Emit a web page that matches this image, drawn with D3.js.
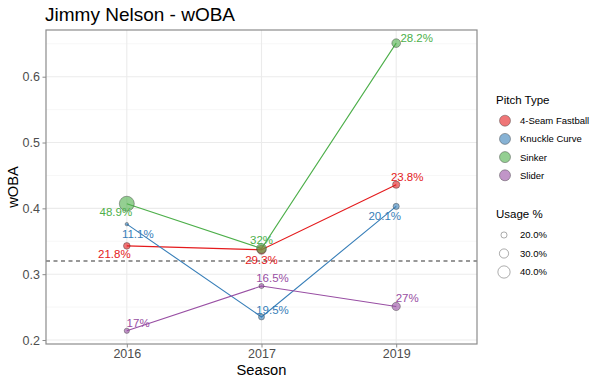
<!DOCTYPE html>
<html>
<head>
<meta charset="utf-8">
<script src="https://cdn.jsdelivr.net/npm/d3@7"></script>
<style>
  body { margin: 0; background: #fff; }
  text { font-family: "Liberation Sans", Arial, sans-serif; }
</style>
</head>
<body>
<svg id="chart"></svg>
<script>
// 数据
const seasons = ['2016', '2017', '2019'];
const pitchTypes = ['4-Seam Fastball', 'Knuckle Curve', 'Sinker', 'Slider'];
const fastballWoba = [0.343, 0.337, 0.436];
const curveWoba = [0.376, 0.235, 0.403];
const sinkerWoba = [0.407, 0.339, 0.651];
const sliderWoba = [0.214, 0.282, 0.251];
const fastballUsage = [21.8, 29.3, 23.8];
const curveUsage = [11.1, 19.5, 20.1];
const sinkerUsage = [48.9, 32, 28.2];
const sliderUsage = [17, 16.5, 27];
const leagueWoba = 0.320;
const yTicks = [0.2, 0.3, 0.4, 0.5, 0.6];
const yMinorTicks = [0.25, 0.35, 0.45, 0.55, 0.65];
const usageBreaks = [20, 30, 40];

// 标签偏移 (文字位置微调)
const labelOffsets = [
  [[-12.5, 11.7], [0, 14], [11, -3.3]],
  [[11, 14], [11, -3.3], [-11.4, 13.3]],
  [[-11, 12.7], [0, -5], [20.5, -1.6]],
  [[11.3, -4], [11, -4.3], [11, -4]]
];

const wobaList = [fastballWoba, curveWoba, sinkerWoba, sliderWoba];
const usageList = [fastballUsage, curveUsage, sinkerUsage, sliderUsage];

const series = pitchTypes.map(function(p, i) {
  return {
    name: p,
    values: seasons.map(function(s, j) {
      return { season: s, woba: wobaList[i][j], usage: usageList[i][j], off: labelOffsets[i][j] };
    })
  };
});

const [width, height] = [600, 385];
const panel = { left: 46, right: 477, top: 30, bottom: 344 };

let svg = d3.select('#chart')
  .attr('width', width)
  .attr('height', height);

let x = d3.scalePoint()
  .domain(seasons)
  .range([panel.left, panel.right])
  .padding(0.6);

let y = d3.scaleLinear()
  .domain([0.2, 0.6])
  .range([340, 76.7]);

let color = d3.scaleOrdinal()
  .domain(pitchTypes)
  .range(['#E41A1C', '#377EB8', '#4DAF4A', '#984EA3']);

let allUsage = [].concat(fastballUsage, curveUsage, sinkerUsage, sliderUsage);
let r = d3.scaleLinear()
  .domain(d3.extent(allUsage))
  .range([1.7, 7.5]);

// 网格
let grid = svg.append('g');
grid.selectAll('.minor')
  .data(yMinorTicks.filter(function(d) { return y(d) > panel.top; }))
  .enter().append('line')
  .attr('x1', panel.left).attr('x2', panel.right)
  .attr('y1', d => y(d)).attr('y2', d => y(d))
  .attr('stroke', '#F2F2F2').attr('stroke-width', 0.6);
grid.selectAll('.major')
  .data(yTicks)
  .enter().append('line')
  .attr('x1', panel.left).attr('x2', panel.right)
  .attr('y1', d => y(d)).attr('y2', d => y(d))
  .attr('stroke', '#EBEBEB').attr('stroke-width', 1.1);
grid.selectAll('.vmajor')
  .data(seasons)
  .enter().append('line')
  .attr('x1', d => x(d)).attr('x2', d => x(d))
  .attr('y1', panel.top).attr('y2', panel.bottom)
  .attr('stroke', '#EBEBEB').attr('stroke-width', 1.1);

// 联盟平均线
svg.append('line')
  .attr('x1', panel.left).attr('x2', panel.right)
  .attr('y1', y(leagueWoba)).attr('y2', y(leagueWoba))
  .attr('stroke', '#333')
  .attr('stroke-width', 1.1)
  .attr('stroke-dasharray', '4,3.5');

// 线
let line = d3.line()
  .x(d => x(d.season))
  .y(d => y(d.woba));

svg.append('g')
  .selectAll('path')
  .data(series)
  .enter()
  .append('path')
  .attr('d', d => line(d.values))
  .attr('fill', 'none')
  .attr('stroke', d => color(d.name))
  .attr('stroke-width', 1.1);

// 点
let pts = svg.append('g')
  .selectAll('g')
  .data(series)
  .enter()
  .append('g');

pts.selectAll('circle')
  .data(d => d.values.map(v => Object.assign({ name: d.name }, v)))
  .enter()
  .append('circle')
  .attr('cx', d => x(d.season))
  .attr('cy', d => y(d.woba))
  .attr('r', d => r(d.usage))
  .attr('fill', d => color(d.name))
  .attr('fill-opacity', 0.6)
  .attr('stroke', '#333')
  .attr('stroke-opacity', 0.5)
  .attr('stroke-width', 0.8);

// 文字
pts.selectAll('text')
  .data(d => d.values.map(v => Object.assign({ name: d.name }, v)))
  .enter()
  .append('text')
  .attr('x', d => x(d.season) + d.off[0])
  .attr('y', d => y(d.woba) + d.off[1])
  .attr('text-anchor', 'middle')
  .attr('font-size', '11.5px')
  .attr('fill', d => color(d.name))
  .text(d => d.usage + '%');

// 边框
svg.append('rect')
  .attr('x', panel.left).attr('y', panel.top)
  .attr('width', panel.right - panel.left)
  .attr('height', panel.bottom - panel.top)
  .attr('fill', 'none')
  .attr('stroke', '#8c8c8c')
  .attr('stroke-width', 1.2);

// 坐标轴
let yAxis = svg.append('g')
  .attr('transform', 'translate(' + panel.left + ',0)')
  .call(d3.axisLeft(y).tickValues(yTicks).tickSize(3.5).tickPadding(2.5).tickFormat(d3.format('.1f')));
let xAxis = svg.append('g')
  .attr('transform', 'translate(0,' + panel.bottom + ')')
  .call(d3.axisBottom(x).tickSize(3.5).tickPadding(2));
[yAxis, xAxis].forEach(function(a) {
  a.select('.domain').remove();
  a.selectAll('line').attr('stroke', '#8c8c8c');
  a.selectAll('text')
    .attr('fill', '#4D4D4D')
    .attr('font-size', '12.5px')
    .attr('font-family', '"Liberation Sans", Arial, sans-serif');
});

// 标题
svg.append('text')
  .attr('x', 45).attr('y', 21)
  .attr('font-size', '19px')
  .attr('fill', '#000')
  .text('Jimmy Nelson - wOBA');
svg.append('text')
  .attr('x', (panel.left + panel.right) / 2).attr('y', 375)
  .attr('text-anchor', 'middle')
  .attr('font-size', '14.7px')
  .text('Season');
svg.append('text')
  .attr('transform', 'translate(18,' + ((panel.top + panel.bottom) / 2) + ') rotate(-90)')
  .attr('text-anchor', 'middle')
  .attr('font-size', '14.7px')
  .text('wOBA');

// 图例
let legend = svg.append('g');
legend.append('text')
  .attr('x', 496).attr('y', 104)
  .attr('font-size', '11.5px')
  .text('Pitch Type');
let keys = legend.selectAll('.key')
  .data(pitchTypes)
  .enter()
  .append('g')
  .attr('transform', (d, i) => 'translate(505,' + (120.7 + i * 18.2) + ')');
keys.append('circle')
  .attr('r', 5.5)
  .attr('fill', d => color(d))
  .attr('fill-opacity', 0.6)
  .attr('stroke', '#333')
  .attr('stroke-opacity', 0.5)
  .attr('stroke-width', 0.8);
keys.append('text')
  .attr('x', 15).attr('y', 3.4)
  .attr('font-size', '9.5px')
  .text(d => d);

legend.append('text')
  .attr('x', 496).attr('y', 218)
  .attr('font-size', '11.5px')
  .text('Usage %');
let sizeKeys = legend.selectAll('.skey')
  .data(usageBreaks)
  .enter()
  .append('g')
  .attr('transform', (d, i) => 'translate(504,' + (235 + i * 18.5) + ')');
sizeKeys.append('circle')
  .attr('r', d => r(d))
  .attr('fill', 'none')
  .attr('stroke', '#333')
  .attr('stroke-opacity', 0.5)
  .attr('stroke-width', 0.8);
sizeKeys.append('text')
  .attr('x', 16).attr('y', 3.4)
  .attr('font-size', '9.5px')
  .text(d => d.toFixed(1) + '%');
</script>
</body>
</html>
